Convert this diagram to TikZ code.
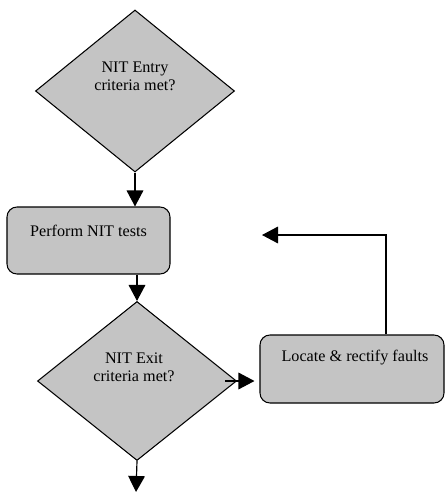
\documentclass[tikz,border=0pt]{standalone}
\usepackage{fontspec}
\setmainfont{Liberation Serif}
\usetikzlibrary{arrows.meta,calc,positioning,shapes.geometric}
\tikzset{%
	decision/.style = {draw, diamond, fill=black!23, line width=0.9pt, inner sep=0pt, minimum width=5.97cm, minimum height=4.86cm},
	process/.style  = {draw, rectangle, rounded corners=0.3cm, fill=black!23, line width=0.9pt, inner sep=0pt},
	boxtext/.style  = {align=center, inner sep=0pt},
	arrow/.style    = {line width=1pt,-{Triangle[width=0.5cm,length=0.48cm]}},
}
\begin{document}
\begin{tikzpicture}[x=0.03cm,y=-0.03cm,font=\fontsize{13.8}{15.5}\selectfont]
	\useasboundingbox (0,0) rectangle (445,492);
	% shapes
	\node[decision] (entry) at (135,91) {};
	\node[process, minimum width=4.89cm, minimum height=2.01cm] (perform) at (88.5,240.5) {};
	\node[decision, minimum height=4.77cm] (exit) at (137,381) {};
	\node[process, minimum width=5.52cm, minimum height=2.04cm] (locate) at (352,369) {};
	% texts
	\node[boxtext] (entrytext) at ($(entry)+(0,-15)$) {NIT Entry\\criteria met?};
	\node[boxtext] (performtext) at ($(perform)+(0,-10)$) {Perform NIT tests};
	\node[boxtext] (exittext) at ($(exit)+(-3,-14)$) {NIT Exit\\criteria met?};
	\node[boxtext] (locatetext) at ($(locate)+(3,-11)$) {Locate \& rectify faults};
	% connectors
	\coordinate (back) at (262,235);
	\coordinate (out) at (136,492);
	\draw[arrow] (entry.south) -- (entry.south |- perform.north);
	\draw[arrow] (perform.south -| exit.north) -- (exit.north);
	\draw[arrow, shorten >=0.15cm] ([xshift=-0.35cm]exit.east) -- (exit.east -| locate.west);
	\draw[arrow] ([xshift=1.02cm]locate.north) |- (back);
	\draw[arrow] (exit.south) -- (out);
\end{tikzpicture}
\end{document}
